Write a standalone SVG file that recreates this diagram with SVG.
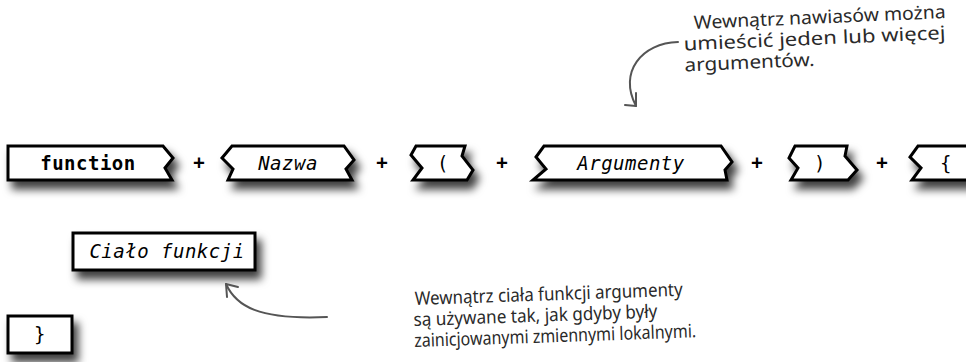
<svg xmlns="http://www.w3.org/2000/svg" width="966" height="362" viewBox="0 0 966 362">
<defs>
<filter id="sh" x="-20%" y="-30%" width="150%" height="200%">
<feDropShadow dx="5" dy="8" stdDeviation="4.5" flood-color="#000" flood-opacity="0.75"/>
</filter>
</defs>
<style>
.box{fill:#fff;stroke:#000;stroke-width:3;stroke-linejoin:miter;filter:url(#sh)}
.code{font-family:"DejaVu Sans Mono","Liberation Mono",monospace;font-size:19px;fill:#000;text-anchor:middle;letter-spacing:0.5px}
.b{font-weight:bold}
.i{font-style:italic}
.plus{font-family:"DejaVu Sans Mono",monospace;font-size:19px;font-weight:bold;fill:#000;text-anchor:middle}
.note{font-family:"Noto Sans","DejaVu Sans",sans-serif;font-size:18.5px;fill:#2a2a2a}
.arr{fill:none;stroke:#555;stroke-width:2;stroke-linecap:round;stroke-linejoin:round}
</style>

<g id="n-function">
<path class="box" d="M8,146 H163 L173,158 L165,168 L172,180 H8 Z"/>
<text class="code b" x="88" y="170">function</text>
</g>
<text class="plus" x="199" y="169">+</text>

<g id="n-nazwa">
<path class="box" d="M232,146 H344 L354,160 L346,169 L352,180 H228 L233,169 L222,158 Z"/>
<text class="code i" x="288" y="170">Nazwa</text>
</g>
<text class="plus" x="382" y="169">+</text>

<g id="n-lparen">
<path class="box" d="M416,146 H465 L462,156 L473,170 L467,180 H413 L422,168 L411,155 Z"/>
<text class="code" x="443" y="170">(</text>
</g>
<text class="plus" x="502" y="169">+</text>

<g id="n-argumenty">
<path class="box" d="M544,146 H721 L732,162 L725,170 L727,180 H533 L546,169 L536,157 Z"/>
<text class="code i" x="631" y="170">Argumenty</text>
</g>
<text class="plus" x="757" y="169">+</text>

<g id="n-rparen">
<path class="box" d="M795,146 H847 L845,156 L857,170 L848,180 H791 L798,168 L789,158 Z"/>
<text class="code" x="820" y="170">)</text>
</g>
<text class="plus" x="882" y="169">+</text>

<g id="n-lbrace">
<path class="box" d="M918,146 H990 V180 H912 L921,168 L910,157 Z"/>
<text class="code" x="946" y="170">{</text>
</g>

<g id="n-cialo">
<rect class="box" x="73" y="233" width="182" height="37"/>
<text class="code i" x="167" y="258" letter-spacing="0.9">Ciało funkcji</text>
</g>

<g id="n-rbrace">
<rect class="box" x="8" y="316" width="64" height="37"/>
<text class="code" x="40" y="341">}</text>
</g>

<g id="connectors">
<path class="arr" d="M678,42 C642,43 618,72 636,106"/>
<path class="arr" d="M625,105 L636,106 L636,93"/>
<path class="arr" d="M226,284 C236,306 258,320 327,317"/>
<path class="arr" d="M226,284 L238,287 M226,284 L227,297"/>
</g>

<g id="notes">
<g transform="rotate(-2.5 694 29)">
<text class="note" x="694" y="29" textLength="252" lengthAdjust="spacingAndGlyphs">Wewnątrz nawiasów można</text>
<text class="note" x="683" y="50" textLength="262" lengthAdjust="spacingAndGlyphs">umieścić jeden lub więcej</text>
<text class="note" x="683" y="71" textLength="130" lengthAdjust="spacingAndGlyphs">argumentów.</text>
</g>
<g transform="rotate(-2 415 305)">
<text class="note" x="415" y="305" textLength="268" lengthAdjust="spacingAndGlyphs">Wewnątrz ciała funkcji argumenty</text>
<text class="note" x="413" y="326" textLength="244" lengthAdjust="spacingAndGlyphs">są używane tak, jak gdyby były</text>
<text class="note" x="413" y="347" textLength="282" lengthAdjust="spacingAndGlyphs">zainicjowanymi zmiennymi lokalnymi.</text>
</g>
</g>
</svg>
